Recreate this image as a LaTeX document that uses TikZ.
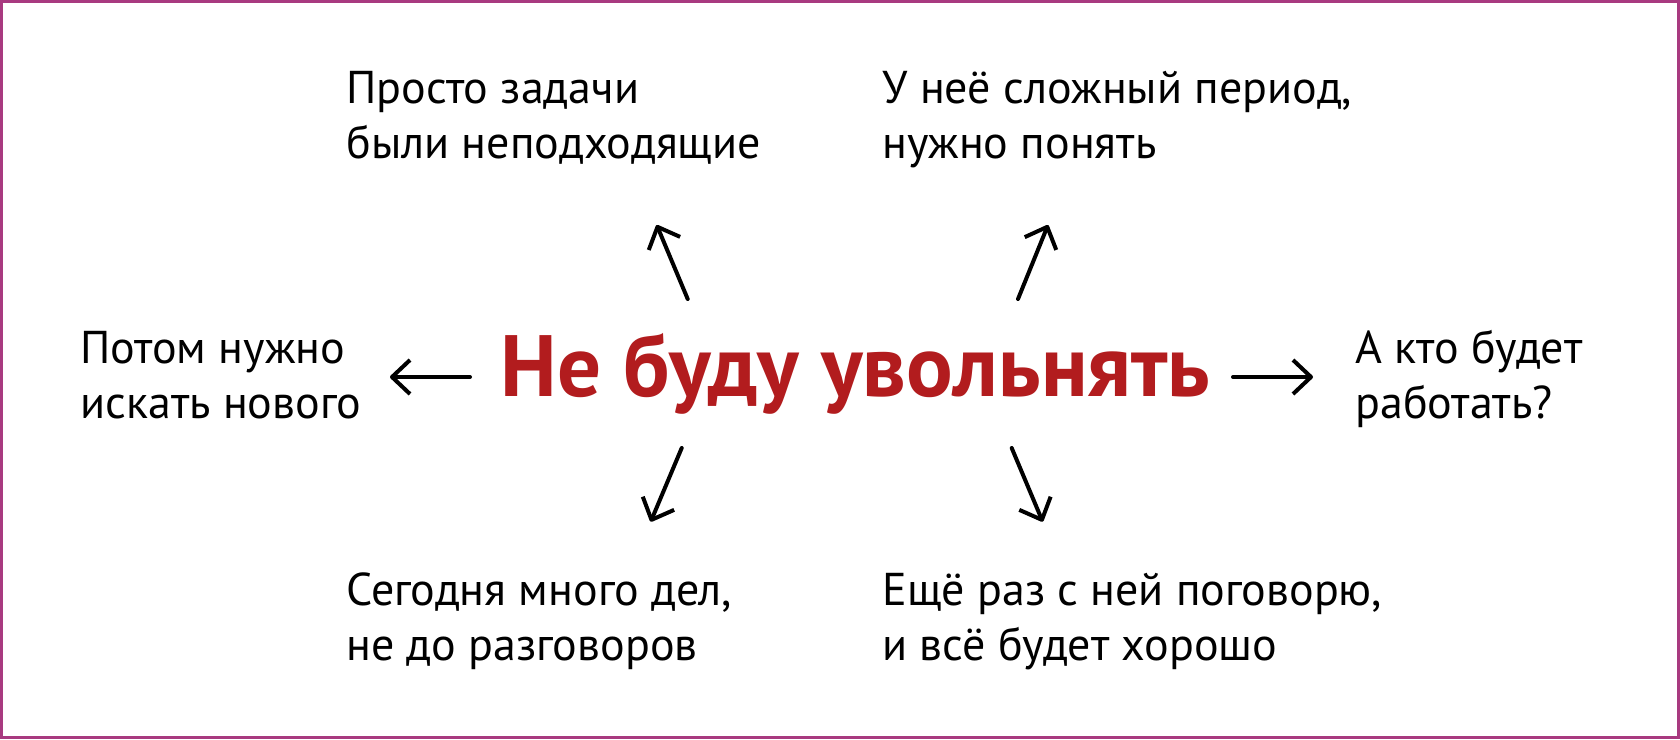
\documentclass[tikz,border=0pt]{standalone}
\usepackage{fontspec}
\setmainfont{PT Sans}
\usetikzlibrary{arrows.meta}

\definecolor{framepink}{RGB}{168,58,128}
\definecolor{firered}{RGB}{178,28,30}

\begin{document}
\begin{tikzpicture}[x=0.5pt,y=-0.5pt,
    reason/.style={anchor=base west,align=left,inner sep=0pt,
      font=\fontsize{23pt}{27.5pt}\selectfont},
    arr/.style={line width=2pt,line cap=round,
      -{Straight Barb[length=9pt,width=17pt,line join=round]}}]

    \useasboundingbox (0,0) rectangle (1680,739);
    \draw[framepink,line width=1.5pt] (1.5,1.5) rectangle (1678.5,737.5);

    \node[anchor=base west,inner sep=0pt,text=firered,
      font=\bfseries\fontsize{43.5pt}{43.5pt}\selectfont] (main) at (500,396) {Не буду увольнять};

    \node[reason] (tl) at (346,158) {Просто задачи\\были неподходящие};
    \node[reason] (tr) at (882,158) {У неё сложный период,\\нужно понять};
    \node[reason] (l) at (80,418) {Потом нужно\\искать нового};
    \node[reason] (r) at (1355,418) {А кто будет\\работать?};
    \node[reason] (bl) at (346,660) {Сегодня много дел,\\не до разговоров};
    \node[reason] (br) at (882,660) {Ещё раз с ней поговорю,\\и всё будет хорошо};

    \coordinate (tl-a) at (687.7,299);
    \coordinate (tl-b) at (656.7,225);
    \coordinate (tr-a) at (1018,299);
    \coordinate (tr-b) at (1048,225);
    \coordinate (l-a) at (470,377);
    \coordinate (l-b) at (390,377);
    \coordinate (r-a) at (1233,377);
    \coordinate (r-b) at (1313,377);
    \coordinate (bl-a) at (681.7,448);
    \coordinate (bl-b) at (650.7,521.7);
    \coordinate (br-a) at (1011.7,448);
    \coordinate (br-b) at (1042.7,521.7);

    \draw[arr] (tl-a) -- (tl-b);
    \draw[arr] (tr-a) -- (tr-b);
    \draw[arr] (l-a) -- (l-b);
    \draw[arr] (r-a) -- (r-b);
    \draw[arr] (bl-a) -- (bl-b);
    \draw[arr] (br-a) -- (br-b);

\end{tikzpicture}
\end{document}
